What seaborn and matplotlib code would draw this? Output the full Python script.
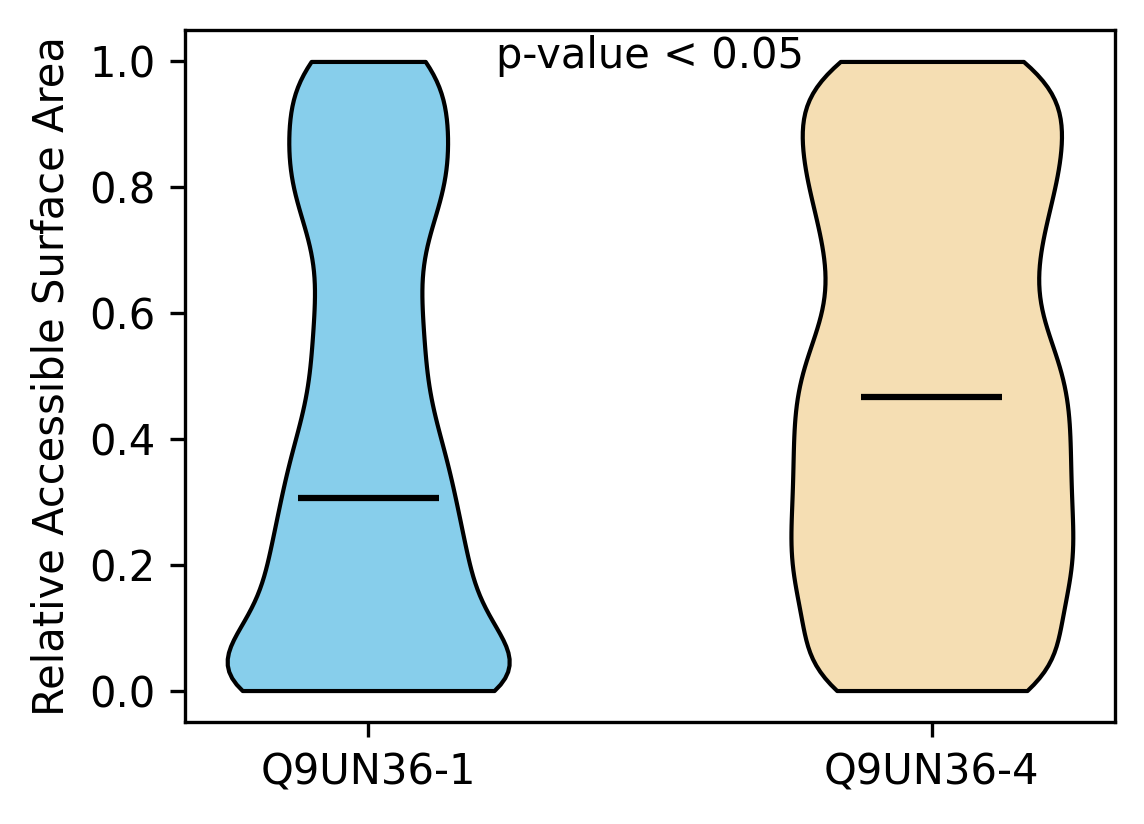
import numpy as np
import pandas as pd
import seaborn as sns
import matplotlib
matplotlib.use("Agg")
import matplotlib.pyplot as plt

# isoforms compared
isoforms = ["Q9UN36-1", "Q9UN36-4"]
colors = ["skyblue", "wheat"]

# RSA values binned on a 0.05 grid, residue counts per bin
rsa_levels = np.round(np.arange(0, 1.0001, 0.05), 2)
counts_iso1 = [29, 16, 11, 11, 11, 10, 9, 9, 8, 6, 6, 6, 6, 5, 5, 7, 9, 9, 8, 8, 11]
counts_iso4 = [13, 9, 8, 10, 11, 10, 10, 10, 10, 10, 10, 9, 7, 7, 8, 8, 9, 10, 9, 10, 11]

# medians drawn as black bars
medians = [0.306, 0.466]

# kde bandwidth factor per isoform
bw_factors = [0.2071, 0.2246]

df = pd.concat([
    pd.DataFrame({"isoform": isoforms[0], "rsa": np.repeat(rsa_levels, counts_iso1)}),
    pd.DataFrame({"isoform": isoforms[1], "rsa": np.repeat(rsa_levels, counts_iso4)}),
])

fig, ax = plt.subplots(figsize=(1144 / 300, 824 / 300), dpi=300)
fig.subplots_adjust(left=0.1617, right=0.9747, top=0.9636, bottom=0.1238)

# one call per isoform so each gets its own bandwidth
for i, iso in enumerate(isoforms):
    sns.violinplot(data=df[df["isoform"] == iso], x="isoform", y="rsa", order=isoforms,
                   color=colors[i], saturation=1, linecolor="black", linewidth=1,
                   cut=0, inner=None, density_norm="width", width=0.5,
                   bw_method=bw_factors[i], ax=ax)
    ax.hlines(medians[i], i - 0.125, i + 0.125, color="black", linewidth=1.5, zorder=3)

ax.set_xlim(-0.325, 1.325)
ax.set_ylim(-0.05, 1.05)
ax.set_yticks(np.arange(0, 1.01, 0.2))
ax.set_xlabel("")
ax.set_ylabel("Relative Accessible Surface Area")
ax.text(0.5, 0.99, "p-value < 0.05", ha="center", va="baseline")

plt.savefig("out.png", dpi=300)
